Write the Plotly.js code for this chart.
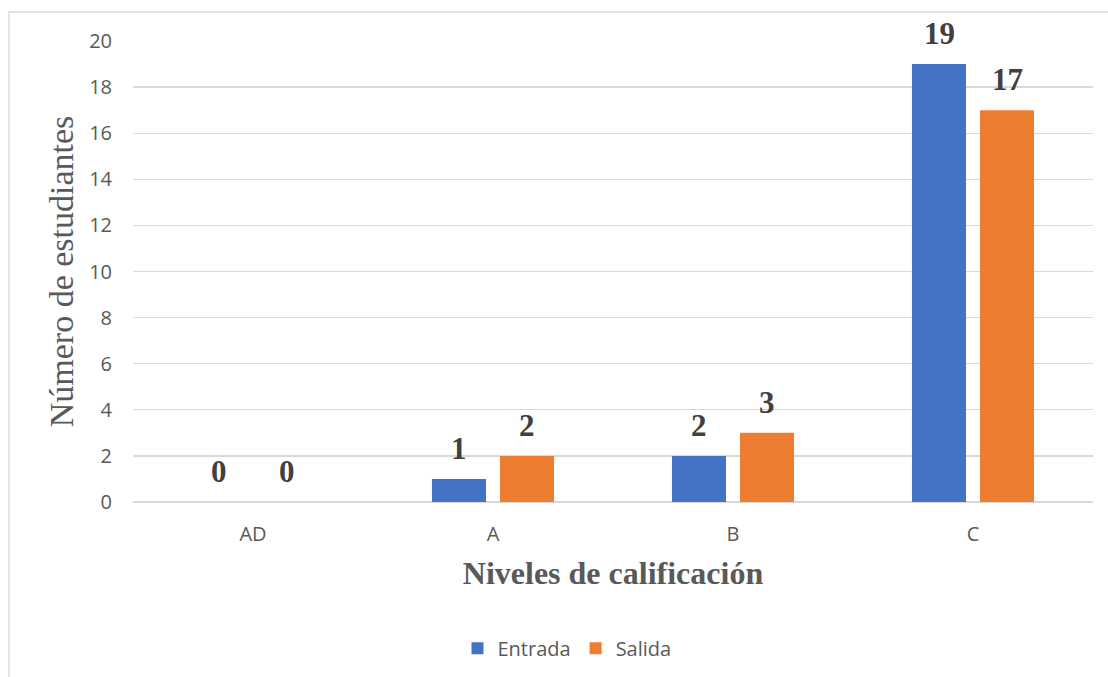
<!DOCTYPE html>
<html>
<head>
<meta charset="utf-8">
<script src="https://cdn.plot.ly/plotly-3.0.1.min.js"></script>
<style>html,body{margin:0;padding:0;background:#fff;}#chart{width:1108px;height:677px;}</style>
</head>
<body>
<div id="chart"></div>
<script>
const categories = ["AD", "A", "B", "C"];
const entrada = [0, 1, 2, 19];
const salida = [0, 2, 3, 17];
const seriesNames = ["Entrada", "Salida"];
const yTicks = [0, 2, 4, 6, 8, 10, 12, 14, 16, 18, 20];

const colors = ["#4472C4", "#ED7D31"];
const seriesValues = [entrada, salida];

const traces = seriesValues.map((vals, i) => ({
  type: "bar",
  name: seriesNames[i],
  x: categories,
  y: vals,
  marker: {color: colors[i]},
  hoverinfo: "skip"
}));

const labelFont = {family: "Liberation Serif, Times New Roman, serif", size: 31, color: "#404040"};
const annotations = [];
seriesValues.forEach((vals, i) => {
  vals.forEach((v, j) => {
    annotations.push({
      x: categories[j], y: v, xref: "x", yref: "y",
      text: "<b>" + v + "</b>", showarrow: false,
      xshift: i === 0 ? -34 : 34, yshift: 11,
      yanchor: "bottom", xanchor: "center",
      font: labelFont
    });
  });
});

const tickFont = {family: "Open Sans, sans-serif", size: 20, color: "#595959"};

const layout = {
  width: 1108, height: 677,
  margin: {l: 133, r: 15, t: 41, b: 175, autoexpand: false},
  paper_bgcolor: "#ffffff", plot_bgcolor: "#ffffff",
  barmode: "group", bargap: 0.433, bargroupgap: 0.206,
  showlegend: true,
  legend: {orientation: "h", x: 0.338, xanchor: "left", y: -0.275, yanchor: "top",
           font: {family: "Open Sans, sans-serif", size: 20, color: "#595959"},
           itemwidth: 30, traceorder: "normal"},
  xaxis: {
    type: "category", showgrid: false, zeroline: false, showline: false, ticks: "",
    automargin: false,
    tickfont: tickFont,
    ticklabelstandoff: 18,
    title: {text: "<b>Niveles de calificación</b>", standoff: 15,
            font: {family: "Liberation Serif, Times New Roman, serif", size: 32, color: "#595959"}}
  },
  yaxis: {
    range: [0, 20], tickvals: yTicks, ticktext: yTicks.map(String),
    automargin: false,
    showgrid: true, gridcolor: "#D9D9D9", gridwidth: 1.3,
    zeroline: true, zerolinecolor: "#D9D9D9", zerolinewidth: 1.3,
    showline: false, ticks: "",
    tickfont: tickFont,
    ticklabelstandoff: 20,
    title: {text: "Número de estudiantes", standoff: 5,
            font: {family: "Liberation Serif, Times New Roman, serif", size: 34, color: "#595959"}}
  },
  shapes: [{type: "rect", xref: "paper", yref: "paper",
            x0: (9 - 133) / 960, x1: 1.2, y0: -0.6, y1: (502 - 12) / 461,
            line: {color: "#D9D9D9", width: 1.3}, fillcolor: "rgba(0,0,0,0)", layer: "below"}],
  annotations: annotations
};

Plotly.newPlot("chart", traces, layout, {staticPlot: true, displayModeBar: false});
</script>
</body>
</html>
